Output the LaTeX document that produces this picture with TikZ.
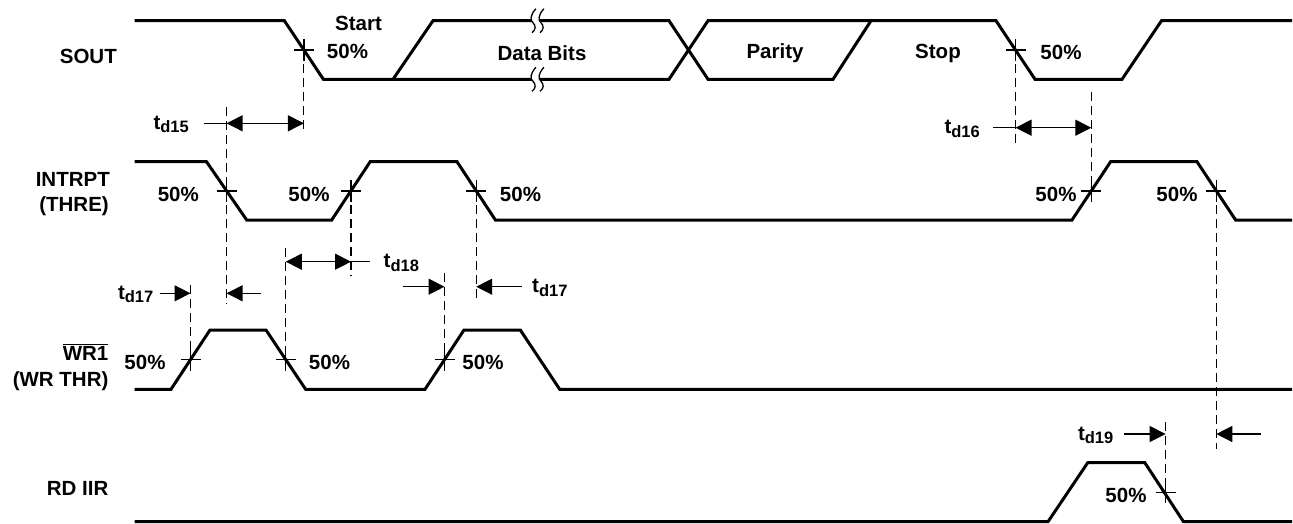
\documentclass[tikz,border=0pt]{standalone}
\usepackage{fontspec}
\setmainfont{Liberation Sans}
\usetikzlibrary{arrows.meta}
\begin{document}
\begin{tikzpicture}[x=1pt,y=-1pt,
  sig/.style={line width=3pt, line join=miter, line cap=butt},
  guide/.style={line width=1.1pt, dash pattern=on 9pt off 5pt},
  dim/.style={line width=1.3pt},
  onetip/.style={dim, -{Triangle[length=16pt,width=16pt]}},
  twotip/.style={dim, {Triangle[length=16pt,width=16pt]}-{Triangle[length=16pt,width=16pt]}},
  lbl/.style={font=\fontsize{20.5}{24}\selectfont\bfseries, inner sep=0pt},
  crossmark/.pic={\draw[line width=1.2pt] (-10,0)--(10,0) (0,-11)--(0,11);},
  brk/.pic={
    \fill[white] (-1,-12) .. controls (-7,-6) and (-7,0) .. (-4,2) .. controls (-1,5) and (-1,9) .. (-5,12)
      -- (3,12) .. controls (7,9) and (7,5) .. (4,2) .. controls (1,0) and (1,-6) .. (7,-12) -- cycle;
    \draw[line width=1.3pt] (-1,-12) .. controls (-7,-6) and (-7,0) .. (-4,2) .. controls (-1,5) and (-1,9) .. (-5,12);
    \draw[line width=1.3pt] (7,-12) .. controls (1,-6) and (1,0) .. (4,2) .. controls (7,5) and (7,9) .. (3,12);
  }
]
\useasboundingbox (0,0) rectangle (1293,523);

% ---------------- signals ----------------
\draw[sig] (134.7,20.7) -- (284.4,20.7) -- (323.4,79.3) -- (393,79.3) -- (433,20.7) -- (669,20.7)
  -- (708,79.3) -- (833,79.3) -- (871,20.7) -- (996,20.7) -- (1035,79.3) -- (1122,79.3) -- (1161.5,20.7) -- (1292,20.7);
\draw[sig] (393,79.3) -- (669,79.3) -- (708,20.7) -- (871,20.7);
\pic at (537,20.7) {brk};
\pic at (537,79.3) {brk};

\draw[sig] (134.7,161.7) -- (206.5,161.7) -- (246.7,220) -- (331.7,220) -- (370.2,161.7) -- (457,161.7)
  -- (495.4,220) -- (1072,220) -- (1110.6,161.7) -- (1197,161.7) -- (1235.6,220) -- (1292,220);

\draw[sig] (134.7,389.3) -- (171,389.3) -- (210,330) -- (266,330) -- (305.6,389.3) -- (425,389.3)
  -- (464,330) -- (520.3,330) -- (559.7,389.3) -- (1292,389.3);

\draw[sig] (134.7,521.7) -- (1048,521.7) -- (1087.7,462.7) -- (1144.8,462.7) -- (1183.5,521.7) -- (1292,521.7);

% ---------------- 50% crossing points ----------------
\coordinate (s1) at (303.9,50);
\coordinate (s2) at (1015.5,50);
\coordinate (i1) at (226.6,191);
\coordinate (i2) at (351,191);
\coordinate (i3) at (476.2,191);
\coordinate (i4) at (1091.3,191);
\coordinate (i5) at (1216.3,191);
\coordinate (w1) at (190.5,359.7);
\coordinate (w2) at (285.8,359.7);
\coordinate (w3) at (444.5,359.7);
\coordinate (r1) at (1165.6,492.2);
\foreach \c in {s1,s2,i1,i2,i3,i4,i5,w1,w2,w3,r1} \pic at (\c) {crossmark};

% ---------------- guide (dashed) lines ----------------
\coordinate (s1b) at (303.9,132);
\coordinate (s2b) at (1015.5,143);
\coordinate (i1t) at (226.6,107);
\coordinate (i1b) at (226.6,304);
\coordinate (i2b) at (351,276);
\coordinate (i3b) at (476.2,300);
\coordinate (i4t) at (1091.3,92);
\coordinate (i5b) at (1216.3,449);
\coordinate (w1t) at (190.5,285);
\coordinate (w2t) at (285.8,248);
\coordinate (w3t) at (444.5,273);
\coordinate (r1t) at (1165.6,422);
\coordinate (r1b) at (1165.6,503);
\draw[guide] (s1) -- (s1b);
\draw[guide] (s2) -- (s2b);
\draw[guide] (i1t) -- (i1b);
\draw[guide] (i2) -- (i2b);
\draw[guide] (i3) -- (i3b);
\draw[guide] (i4t) -- (i4);
\draw[guide] (i5) -- (i5b);
\draw[guide] (w1t) -- (w1);
\draw[guide] (w2t) -- (w2);
\draw[guide] (w3t) -- (w3);
\draw[guide] (r1t) -- (r1b);

% ---------------- timing arrows ----------------
% td15
\coordinate (a15l) at (204,123.3);
\coordinate (a15a) at (226.6,123.3);
\coordinate (a15b) at (303.9,123.3);
\draw[dim] (a15l) -- (a15a);
\draw[twotip] (a15a) -- (a15b);
\node[lbl, anchor=base east] (t15) at (189,129.3) {t\raisebox{-3.5pt}{\fontsize{16.5}{18}\selectfont d15}};
% td16
\coordinate (a16l) at (993,127.7);
\coordinate (a16a) at (1015.5,127.7);
\coordinate (a16b) at (1091.3,127.7);
\draw[dim] (a16l) -- (a16a);
\draw[twotip] (a16a) -- (a16b);
\node[lbl, anchor=base east] (t16) at (980,133.7) {t\raisebox{-3.5pt}{\fontsize{16.5}{18}\selectfont d16}};
% td18
\coordinate (a18a) at (285.8,261.7);
\coordinate (a18b) at (351,261.7);
\coordinate (a18r) at (370,261.7);
\draw[twotip] (a18a) -- (a18b);
\draw[dim] (a18b) -- (a18r);
\node[lbl, anchor=base west] (t18) at (383.5,267.7) {t\raisebox{-3.5pt}{\fontsize{16.5}{18}\selectfont d18}};
% td17 (left)
\coordinate (a17a) at (159.6,293.3);
\coordinate (a17b) at (190.5,293.3);
\coordinate (a17c) at (261,293.3);
\coordinate (a17d) at (226.6,293.3);
\draw[onetip] (a17a) -- (a17b);
\draw[onetip] (a17c) -- (a17d);
\node[lbl, anchor=base east] (t17a) at (153.5,299.3) {t\raisebox{-3.5pt}{\fontsize{16.5}{18}\selectfont d17}};
% td17 (right)
\coordinate (b17a) at (403,286.7);
\coordinate (b17b) at (444.5,286.7);
\coordinate (b17c) at (521.6,286.7);
\coordinate (b17d) at (476.2,286.7);
\draw[onetip] (b17a) -- (b17b);
\draw[onetip] (b17c) -- (b17d);
\node[lbl, anchor=base west] (t17b) at (532,292.7) {t\raisebox{-3.5pt}{\fontsize{16.5}{18}\selectfont d17}};
% td19
\coordinate (a19a) at (1124,434);
\coordinate (a19b) at (1165.6,434);
\coordinate (a19c) at (1260.6,434);
\coordinate (a19d) at (1216.3,434);
\draw[onetip] (a19a) -- (a19b);
\draw[onetip] (a19c) -- (a19d);
\node[lbl, anchor=base east] (t19) at (1113.5,440) {t\raisebox{-3.5pt}{\fontsize{16.5}{18}\selectfont d19}};

% ---------------- signal names ----------------
\node[lbl, anchor=base east] (nsout) at (117,63.3) {SOUT};
\node[lbl, anchor=base east] (nint) at (110,186.7) {INTRPT};
\node[lbl, anchor=base east] (nthre) at (109,211.5) {(THRE)};
\node[lbl, anchor=base east] (nwr) at (108.6,360) {$\overline{\mbox{WR1}}$};
\node[lbl, anchor=base east] (nwrthr) at (108.6,386) {(WR THR)};
\node[lbl, anchor=base east] (nrd) at (108.6,495) {RD IIR};

% ---------------- other labels ----------------
\node[lbl, anchor=base] (lstart) at (358.5,30) {Start};
\node[lbl, anchor=base] (ls1) at (347.5,58.3) {50\%};
\node[lbl, anchor=base] (ldata) at (542,60) {Data Bits};
\node[lbl, anchor=base] (lpar) at (775,58.5) {Parity};
\node[lbl, anchor=base] (lstop) at (938,58.5) {Stop};
\node[lbl, anchor=base] (ls2) at (1061,59) {50\%};
\node[lbl, anchor=base] (li1) at (178.3,201) {50\%};
\node[lbl, anchor=base] (li2) at (309,201) {50\%};
\node[lbl, anchor=base] (li3) at (520.5,201) {50\%};
\node[lbl, anchor=base] (li4) at (1056,201) {50\%};
\node[lbl, anchor=base] (li5) at (1177,201) {50\%};
\node[lbl, anchor=base] (lw1) at (145,369) {50\%};
\node[lbl, anchor=base] (lw2) at (329.5,369) {50\%};
\node[lbl, anchor=base] (lw3) at (483,369) {50\%};
\node[lbl, anchor=base] (lr1) at (1126,502) {50\%};
\end{tikzpicture}
\end{document}
